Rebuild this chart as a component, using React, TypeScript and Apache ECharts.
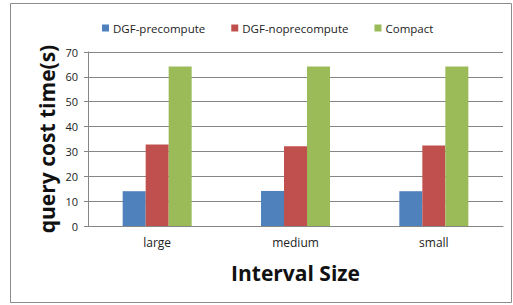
import React, { useEffect, useRef } from "react";
import * as echarts from "echarts";

const categories = ["large", "medium", "small"];
const dgfPrecompute = [14.0, 14.1, 14.0];
const dgfNoPrecompute = [32.8, 32.1, 32.4];
const compact = [64.2, 64.2, 64.2];
const seriesNames = ["DGF-precompute", "DGF-noprecompute", "Compact"];
const colors = ["#4F81BD", "#C0504D", "#9BBB59"];

const FONT = "Open Sans";

export default function App() {
  const ref = useRef<HTMLDivElement>(null);
  useEffect(() => {
    if (!ref.current) return;
    const chart = echarts.init(ref.current, null, { renderer: "svg" });
    const data = [dgfPrecompute, dgfNoPrecompute, compact];
    chart.setOption({
      animation: false,
      textStyle: { fontFamily: FONT },
      graphic: [
        {
          type: "rect",
          shape: { x: 10.5, y: 3.5, width: 501, height: 299 },
          style: { fill: "none", stroke: "#8c8c8c", lineWidth: 1 },
          silent: true,
        },
      ],
      legend: {
        left: 97,
        top: 17,
        itemWidth: 7,
        itemHeight: 7,
        itemGap: 26,
        icon: "rect",
        textStyle: { fontFamily: FONT, fontSize: 11.5, color: "#222", padding: [0, 0, 0, -1] },
        data: seriesNames,
      },
      grid: { left: 88, right: 10, top: 52, bottom: 79, containLabel: false },
      xAxis: {
        type: "category",
        data: categories,
        name: "Interval Size",
        nameLocation: "middle",
        nameGap: 36,
        nameMoveOverlap: false,
        nameTextStyle: { fontFamily: FONT, fontSize: 21, fontWeight: "bold", color: "#111" },
        axisLine: { lineStyle: { color: "#868686" } },
        axisTick: { show: false },
        axisLabel: { fontFamily: FONT, fontSize: 12, color: "#222", margin: 10 },
      },
      yAxis: {
        type: "value",
        min: 0,
        max: 70,
        interval: 10,
        name: "query cost time(s)",
        nameLocation: "middle",
        nameGap: 31,
        nameMoveOverlap: false,
        nameTextStyle: { fontFamily: FONT, fontSize: 21, fontWeight: "bold", color: "#111" },
        axisLine: { show: true, lineStyle: { color: "#868686" } },
        axisTick: { show: true, length: 4, lineStyle: { color: "#868686" } },
        axisLabel: { fontFamily: FONT, fontSize: 11, color: "#222", margin: 10 },
        splitLine: { lineStyle: { color: "#868686" } },
      },
      series: seriesNames.map((name, i) => ({
        name,
        type: "bar",
        data: data[i],
        barWidth: 23,
        barGap: "0%",
        itemStyle: { color: colors[i] },
      })),
    });
    return () => chart.dispose();
  }, []);
  return <div ref={ref} style={{ width: 513, height: 305, position: "absolute", left: 0, top: 0 }} />;
}
